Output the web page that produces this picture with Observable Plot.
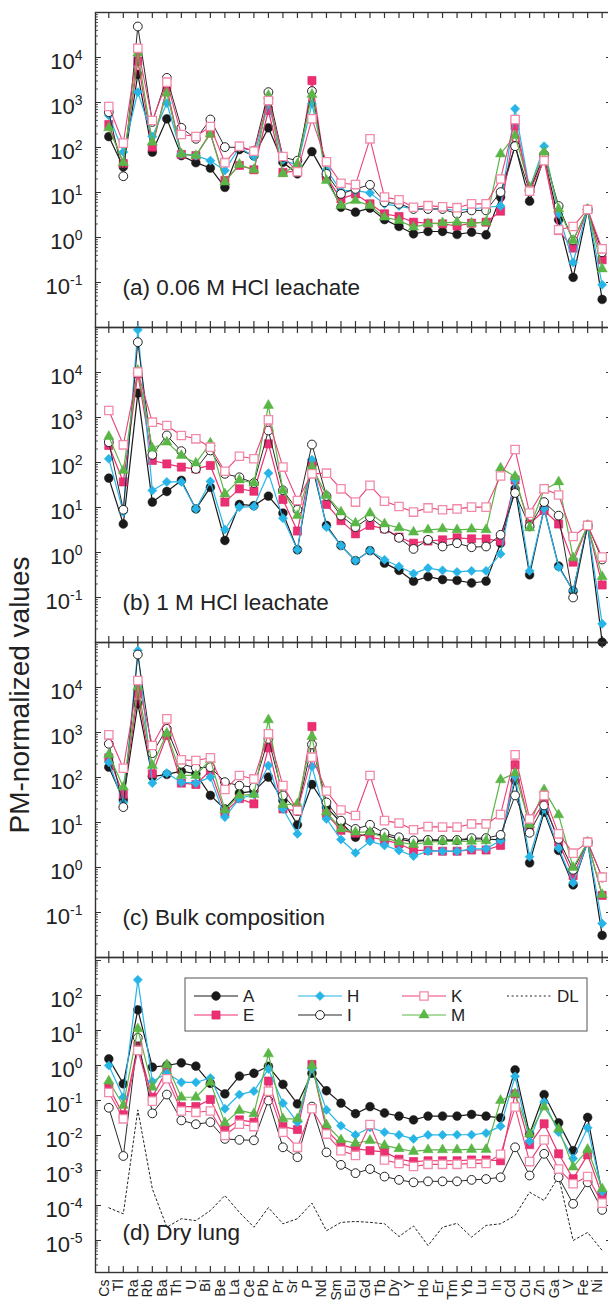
<!DOCTYPE html>
<html><head><meta charset="utf-8">
<script src="https://cdn.jsdelivr.net/npm/d3@7"></script>
<script src="https://cdn.jsdelivr.net/npm/@observablehq/plot@0.6"></script>
<style>
body{margin:0;background:#fff;}
#fig{position:relative;width:608px;height:1309px;overflow:hidden;font-family:"Liberation Sans",Arial,sans-serif;background:#fff;}
#fig svg{position:absolute;left:0;}
</style></head><body><div id="fig"></div>
<script>
const elements = ["Cs","Tl","Ra","Rb","Ba","Th","U","Bi","Be","La","Ce","Pb","Pr","Sr","P","Nd","Sm","Eu","Gd","Tb","Dy","Y","Ho","Er","Tm","Yb","Lu","In","Cd","Cu","Zn","Ga","V","Fe","Ni"];
const seriesNames = ["A","E","H","I","K","M"];
const panelLabels = ["(a) 0.06 M HCl leachate","(b) 1 M HCl leachate","(c) Bulk composition","(d) Dry lung"];
const yTitle = "PM-normalized values";

// (a) 0.06 M HCl leachate
const a_A = [175,37,4190,79,433,66,46,35,13,90,65,274,47,26,81,22,4.7,3.66,4.5,2.5,1.76,1.21,1.36,1.36,1.17,1.31,1.15,7.9,111,6.4,61,2.47,0.13,4.2,0.042];
const a_E = [324,44,8300,102,2120,70,66,209,18.5,40,32,664,28,30,3080,22,7.2,9.3,5.6,3.36,2.93,2.19,2.08,2.01,1.8,2.08,2.19,3.85,300,12,61,1.43,0.58,4.2,0.32];
const a_H = [515,79,1700,175,966,72,66,51,31,100,63,950,53,40,933,32,11,11,9.8,5.5,5.0,4.3,4.3,4.3,4.0,4.3,4.7,5.0,723,12,107,3.36,0.28,4.2,0.089];
const a_I = [610,23,48900,370,3530,274,156,419,102,100,85,1700,61,51,1790,26,9.3,12,14.8,6.1,5.6,4.3,4.3,4.3,3.36,4.0,4.0,10.2,107,10.7,70,5.0,0.86,4.2,0.47];
const a_K = [815,125,16100,398,2830,195,175,293,46,107,83,1110,63,29,433,48,16,15,156,7.9,6.9,4.7,5.1,4.8,4.6,5.6,5.6,20,419,10.7,51,1.48,1.76,4.2,0.56];
const a_M = [274,46,12500,131,1610,72,66,201,17,42,32,1430,26,43,1510,18.5,5.1,6.6,5.1,2.83,2.39,1.70,2.01,2.12,2.19,2.08,2.19,72,185,13,79,4.3,0.86,4.2,0.2];

// (b) 1 M HCl leachate
const b_A = [45,4.3,3470,13.2,22.7,40,9.3,28,1.85,11.7,11,17.9,7.5,1.15,90,4,1.43,0.66,1.1,0.58,0.40,0.23,0.29,0.25,0.24,0.21,0.23,1.61,26,0.32,9.5,0.5,0.14,4.0,0.0102];
const b_E = [239,37,9300,111,93,79,72,86,13.2,26,23,260,15,3,97,11.7,5.1,2.6,4,3.36,2.2,1.61,1.8,1.91,2.12,2.01,2.0,1.79,41,4.3,8.6,4.3,0.61,4.0,0.19];
const b_H = [121,7.9,88700,23.9,37,37,9.3,38,3.24,10.2,10.5,58,5.8,1.15,115,3.66,1.43,0.66,1.1,0.69,0.49,0.34,0.45,0.40,0.37,0.39,0.39,0.93,41,0.39,9.5,0.47,0.143,4.0,0.026];
const b_I = [283,8.9,47200,148,400,179,72,185,56,47,35,514,24,8.9,251,18,6.6,3.66,6.1,3.36,2.12,1.2,1.91,1.36,1.61,1.31,1.36,2.47,21,3.8,13.2,6.6,0.10,4.0,0.7];
const b_K = [1430,247,10200,787,664,398,336,219,64,138,121,887,79,14.3,56,58,26,13.2,31,13.8,10.5,7.9,9.8,8.9,9.3,10.2,10.2,50,195,7.5,26,19,2.27,4.0,0.79];
const b_M = [378,66,11100,208,283,143,97,269,20,41,35,1850,24,6.6,81,18.5,7.9,4.5,7.5,4.3,3.53,2.83,3.19,3.36,3.19,3.3,3.2,75,49,3.53,24.8,37,0.76,4.0,0.29];

// (c) Bulk composition
const c_A = [170,32,4340,105,117,138,121,40,20,45,50,102,31,8.9,70,22,10,4.7,5.8,5.2,4.3,3.7,4.1,4.0,4.0,4.3,4.3,4.1,86,1.27,17,2.39,0.41,3.66,0.031];
const c_E = [274,42,7230,121,858,75,70,143,17,34,26,456,20,18,1360,15.6,6.7,5.8,4.7,4.1,3.36,2.39,2.39,2.3,2.3,2.45,2.45,3.1,191,8.5,29,3.66,0.66,3.66,0.24];
const c_H = [219,28,66400,75,125,78,75,102,13.2,34,42,185,20,5.6,175,12,4.2,2.12,3.8,3.1,2.39,1.79,2.3,2.3,2.3,2.6,2.6,4.0,105,1.73,20,2.69,0.46,3.66,0.057];
const c_I = [560,22,54100,347,1210,201,164,170,79,66,61,723,40,18,541,28,11,7.2,8.9,5.8,4.7,4.0,4.1,4.1,4.1,4.5,4.5,5.3,40,5.9,24,4.3,0.89,3.66,0.6];
const c_K = [887,161,14300,514,2010,247,239,274,54,111,93,933,66,18.5,283,50,19,14.3,111,11,9.7,6.9,8.1,7.9,7.9,9.3,9.3,15,319,12,40,5.6,2.08,3.66,0.61];
const c_M = [324,61,10200,185,966,111,111,251,19,40,42,1910,25,26,815,17,7.2,6.1,6.1,4.6,3.66,3.24,3.66,3.8,3.8,3.8,3.9,89,125,9.0,53,14.8,1.0,3.66,0.25];

// (d) Dry lung
const d_A = [1.55,0.30,39,0.9,1.0,1.19,0.96,0.31,0.155,0.5,0.6,0.95,0.29,0.08,0.6,0.19,0.084,0.042,0.067,0.044,0.036,0.028,0.036,0.036,0.036,0.04,0.036,0.032,0.75,0.011,0.148,0.023,0.0037,0.033,0.00022];
const d_E = [0.24,0.039,3.7,0.124,0.75,0.067,0.067,0.107,0.0145,0.028,0.024,0.36,0.018,0.0148,1.07,0.0142,0.0054,0.0042,0.0037,0.0034,0.0021,0.0018,0.0019,0.0019,0.0019,0.002,0.002,0.0019,0.155,0.0055,0.0216,0.003,0.00058,0.0028,0.00019];
const d_H = [1.0,0.124,280,0.35,0.6,0.33,0.33,0.44,0.058,0.148,0.185,0.8,0.084,0.024,0.8,0.054,0.019,0.0104,0.017,0.0124,0.0104,0.008,0.0104,0.0104,0.0105,0.0105,0.0117,0.0185,0.49,0.0069,0.09,0.0124,0.0022,0.0166,0.00025];
const d_I = [0.062,0.0026,6.2,0.043,0.148,0.027,0.021,0.024,0.008,0.0075,0.0073,0.1,0.0046,0.0024,0.067,0.0033,0.00145,0.00084,0.0011,0.00067,0.00054,0.00046,0.00049,0.00049,0.00049,0.00054,0.00057,0.00064,0.0046,0.00072,0.003,0.00064,0.000112,0.00046,0.000075];
const d_K = [0.17,0.030,2.7,0.096,0.42,0.050,0.046,0.05,0.01,0.021,0.018,0.185,0.0124,0.0046,0.058,0.011,0.0037,0.0027,0.0206,0.002,0.0016,0.0013,0.0015,0.0015,0.0015,0.0016,0.0016,0.0029,0.065,0.0018,0.0075,0.0011,0.00042,0.00067,0.000117];
const d_M = [0.36,0.072,11.2,0.24,1.05,0.124,0.124,0.33,0.023,0.052,0.042,2.15,0.030,0.030,1.0,0.020,0.0075,0.006,0.0072,0.0052,0.0042,0.0035,0.0039,0.0039,0.0039,0.004,0.004,0.1,0.155,0.011,0.065,0.0155,0.00125,0.004,0.0003];
const d_DL = [8.6e-5,5.8e-5,0.054,3e-4,2.4e-5,4.2e-5,3.7e-5,7.2e-5,1.93e-4,6.4e-5,2.4e-5,8.7e-5,3.0e-5,4.2e-5,1.17e-4,1.9e-5,3.3e-5,3.5e-5,3.3e-5,3.0e-5,1.3e-5,2.6e-5,7.2e-6,2.4e-5,3.1e-5,1.25e-5,2.7e-5,3e-5,5.2e-5,2.4e-4,1.39e-4,6.7e-4,1e-5,1.7e-5,5.2e-6];

const styles = {
  A: {symbol:"circle", r:4.4, fill:"#1a1a1a", stroke:"#1a1a1a", sw:0.5, line:"#1a1a1a", lw:1.2},
  E: {symbol:"square", r:4.6, fill:"#ec2f72", stroke:"#d82565", sw:0.6, line:"#ec2f72", lw:1.2},
  H: {symbol:"diamond2", r:4.1, fill:"#27b5e8", stroke:"#27b5e8", sw:0.6, line:"#27b5e8", lw:1.2},
  I: {symbol:"circle", r:4.4, fill:"white", stroke:"#222", sw:1, line:"#2a2a2a", lw:1.0},
  M: {symbol:"triangle", r:3.8, fill:"#5ab646", stroke:"#5ab646", sw:0.5, line:"#5ab646", lw:1.2},
  K: {symbol:"square", r:4.7, fill:"white", stroke:"#f28aa8", sw:1.3, line:"#e9437a", lw:1.1}
};
const drawOrder = ["A","E","H","I","M","K"];

const panels = [
  {label: panelLabels[0], exp: [-2, 5], data: {A:a_A, E:a_E, H:a_H, I:a_I, K:a_K, M:a_M}},
  {label: panelLabels[1], exp: [-2, 5], data: {A:b_A, E:b_E, H:b_H, I:b_I, K:b_K, M:b_M}},
  {label: panelLabels[2], exp: [-2, 5], data: {A:c_A, E:c_E, H:c_H, I:c_I, K:c_K, M:c_M}},
  {label: panelLabels[3], exp: [-5.914, 3.086], data: {A:d_A, E:d_E, H:d_H, I:d_I, K:d_K, M:d_M}, dl: d_DL}
];

const W = 612, ML = 95, PH = 315, TOP0 = 12, MT = 16;
const xDomain = [-0.917, 34.713];
const idx = elements.map((d, i) => i);
const FONT = "'Liberation Sans', Arial, sans-serif";
const fig = document.getElementById("fig");

function logTicks(lo, hi) {
  const major = [], minor = [];
  for (let e = Math.floor(lo); e <= Math.ceil(hi); e++) {
    for (let k = 1; k < 10; k++) {
      const v = k * Math.pow(10, e), l = Math.log10(v);
      if (l >= lo - 1e-9 && l <= hi + 1e-9) (k === 1 ? major : minor).push(v);
    }
  }
  return {major, minor};
}

panels.forEach((p, pi) => {
  const last = pi === panels.length - 1;
  const MB = last ? 40 : 16;
  const [lo, hi] = p.exp;
  const {major, minor} = logTicks(lo, hi);
  const labelled = major.filter(v => Math.log10(v) > lo + 0.2 && Math.log10(v) < hi - 0.2);
  const iw = W - ML;
  const marks = [
    Plot.tickY(major, {y: d => d, insetRight: iw - 6, stroke: "#333", strokeWidth: 1}),
    Plot.tickY(minor, {y: d => d, insetRight: iw - 3, stroke: "#333", strokeWidth: 0.8}),
    Plot.tickY(major, {y: d => d, insetLeft: iw - 6, stroke: "#333", strokeWidth: 1}),
    Plot.tickY(minor, {y: d => d, insetLeft: iw - 3, stroke: "#333", strokeWidth: 0.8}),
    Plot.tickX(idx, {x: d => d, insetBottom: PH - 6, stroke: "#333", strokeWidth: 1.2}),
    Plot.tickX(idx, {x: d => d, insetTop: PH - 6, stroke: "#333", strokeWidth: 1.2}),
    Plot.axisY(labelled, {anchor: "left", tickSize: 0, tickPadding: 13, fontSize: 22, label: null,
      tickFormat: d => "10^" + Math.round(Math.log10(d))}),
  ];
  if (p.dl) {
    marks.push(Plot.line(p.dl, {x: (d, i) => i, y: d => d, stroke: "#222", strokeWidth: 1, strokeDasharray: "2,2.6"}));
  }
  drawOrder.forEach(k => {
    const s = styles[k], vals = p.data[k];
    marks.push(Plot.line(vals, {x: (d, i) => i, y: d => d, stroke: s.line, strokeWidth: s.lw}));
    marks.push(Plot.dot(vals, {x: (d, i) => i, y: d => d, symbol: s.symbol, r: s.r, fill: s.fill, stroke: s.stroke, strokeWidth: s.sw}));
  });
  marks.push(Plot.text([p.label], {frameAnchor: "bottom-left", dx: 27, dy: -33, textAnchor: "start", fontSize: 22.5, fill: "#222"}));
  marks.push(Plot.frame({stroke: "#333", strokeWidth: 1.4}));
  if (last) {
    marks.push(Plot.text(elements, {x: (d, i) => i, text: d => d, frameAnchor: "bottom", rotate: -90, textAnchor: "end", dy: 7, fontSize: 14, fill: "#222"}));
  }
  const svg = Plot.plot({
    width: W, height: PH + MT + MB,
    marginLeft: ML, marginRight: 0, marginTop: MT, marginBottom: MB,
    style: {background: "transparent", overflow: "visible", maxWidth: "none", fontFamily: FONT, color: "#222"},
    x: {domain: xDomain, axis: null},
    y: {type: "log", domain: [Math.pow(10, lo), Math.pow(10, hi)]},
    marks
  });
  svg.style.top = (TOP0 + PH * pi - MT) + "px";
  // superscript exponents
  svg.querySelectorAll('g[aria-label="y-axis tick label"] text').forEach(t => {
    const parts = t.textContent.split("^");
    if (parts.length < 2) return;
    t.textContent = "";
    const ns = "http://www.w3.org/2000/svg";
    const a = document.createElementNS(ns, "tspan");
    a.setAttribute("dy", "4");
    a.textContent = parts[0];
    const b = document.createElementNS(ns, "tspan");
    b.setAttribute("dy", "-9");
    b.setAttribute("font-size", "14");
    b.textContent = parts[1];
    t.appendChild(a); t.appendChild(b);
  });
  fig.appendChild(svg);
});

// overlay: legend + y title
const ov = d3.select(fig).append("svg").attr("width", 608).attr("height", 1309)
  .style("top", "0px").style("font-family", FONT);
ov.append("text").attr("transform", "translate(29,695) rotate(-90)").attr("text-anchor", "middle")
  .attr("font-size", 28).attr("fill", "#222").text(yTitle);

const lg = ov.append("g");
lg.append("rect").attr("x", 185).attr("y", 978).attr("width", 402).attr("height", 53)
  .attr("fill", "white").attr("stroke", "#555").attr("stroke-width", 1);
const symMap = {circle: d3.symbolCircle, square: d3.symbolSquare, diamond2: d3.symbolDiamond2, triangle: d3.symbolTriangle};
const legendItems = [
  {k: "A", col: 0, row: 0}, {k: "E", col: 0, row: 1},
  {k: "H", col: 1, row: 0}, {k: "I", col: 1, row: 1},
  {k: "K", col: 2, row: 0}, {k: "M", col: 2, row: 1}
];
const colX = [194, 298, 402, 507], rowY = [996, 1015];
legendItems.forEach(it => {
  const s = styles[it.k], x0 = colX[it.col], y = rowY[it.row];
  lg.append("line").attr("x1", x0).attr("x2", x0 + 44).attr("y1", y).attr("y2", y)
    .attr("stroke", s.line).attr("stroke-width", s.lw);
  lg.append("path").attr("d", d3.symbol(symMap[s.symbol], Math.PI * s.r * s.r)())
    .attr("transform", `translate(${x0 + 22},${y})`).attr("fill", s.fill).attr("stroke", s.stroke).attr("stroke-width", s.sw);
  lg.append("text").attr("x", x0 + 49).attr("y", y + 6).attr("font-size", 17).attr("fill", "#222").text(it.k);
});
lg.append("line").attr("x1", colX[3]).attr("x2", colX[3] + 44).attr("y1", rowY[0]).attr("y2", rowY[0])
  .attr("stroke", "#222").attr("stroke-width", 1).attr("stroke-dasharray", "2,2.6");
lg.append("text").attr("x", colX[3] + 50).attr("y", rowY[0] + 6).attr("font-size", 17).attr("fill", "#222").text("DL");
</script></body></html>
